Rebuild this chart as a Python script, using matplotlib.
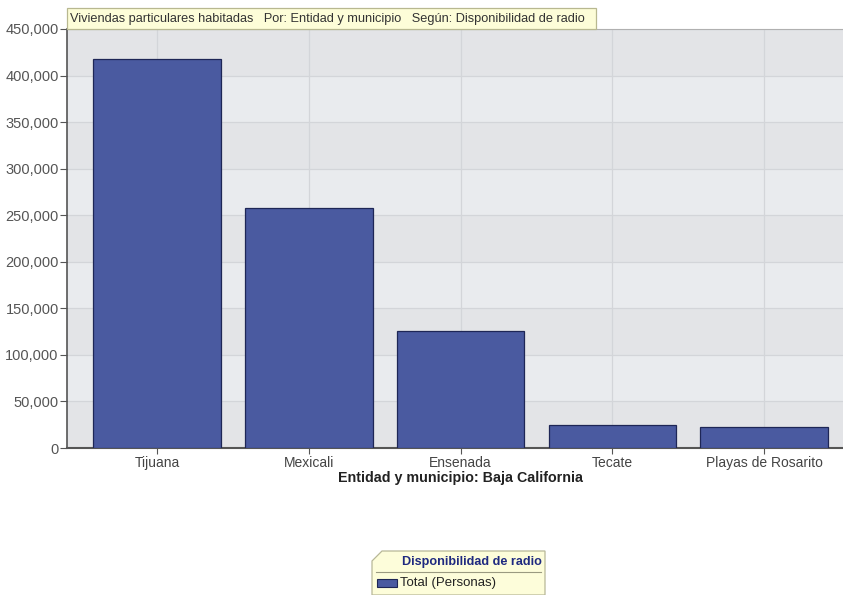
import numpy as np
import matplotlib.pyplot as plt
from matplotlib.patches import Polygon, Rectangle
from matplotlib.ticker import FuncFormatter

plt.rcParams['font.family'] = ['Liberation Sans', 'DejaVu Sans']

##DATOS
municipios = ["Tijuana", "Mexicali", "Ensenada", "Tecate", "Playas de Rosarito"]
viviendas = [418000, 258000, 126000, 24800, 22500]
yticks = list(range(0, 450001, 50000))
titulo = "Viviendas particulares habitadas   Por: Entidad y municipio   Según: Disponibilidad de radio"
xlabel = "Entidad y municipio: Baja California"
leyenda_titulo = "Disponibilidad de radio"
serie = "Total (Personas)"

color_barra = "#4a5aa0"
color_borde = "#1e2656"

fig = plt.figure(figsize=(8.43, 5.95), dpi=100)
ax = fig.add_axes([67/843, 1-448/595, 1-67/843, (448-29)/595])

x = np.arange(len(municipios))
ax.set_xlim(-0.593, 4.52)
ax.set_ylim(0, 450000)

# bandas alternas de fondo
ax.set_facecolor("#e9ebee")
for i in range(len(yticks)-1):
    c = "#e3e4e7" if i % 2 == 0 else "#e9ebee"
    ax.axhspan(yticks[i], yticks[i+1], color=c, zorder=0, lw=0)

for yv in yticks[1:]:
    ax.axhline(yv, color="#d3d5d9", lw=0.9, zorder=1)
for xv in x:
    ax.axvline(xv, color="#d3d5d9", lw=0.9, zorder=1)

ax.bar(x, viviendas, width=0.84, color=color_barra, edgecolor=color_borde, lw=0.9, zorder=3)

ax.set_xticks(x)
ax.set_xticklabels(municipios, fontsize=10, color="#444444")
ax.set_yticks(yticks)
ax.yaxis.set_major_formatter(FuncFormatter(lambda v, p: f"{int(v):,}"))
ax.tick_params(axis='y', labelsize=10.5, labelcolor="#555555", length=5, color="#555555", pad=1)
ax.tick_params(axis='x', length=4, color="#555555", pad=1.5)
ax.set_xlabel(xlabel, fontsize=10.3, fontweight="bold", color="#222222")
ax.xaxis.set_label_coords((460-67)/(843-67), -(478-448)/(448-29))
ax.xaxis.label.set_va("center")

ax.spines["right"].set_visible(False)
ax.spines["top"].set_color("#b0b0b0")
ax.spines["left"].set_color("#555555")
ax.spines["left"].set_linewidth(1.2)
ax.spines["bottom"].set_color("#555555")
ax.spines["bottom"].set_linewidth(1.5)

# caja del título
fig.patches.append(Rectangle((67/843, 1-29/595), (596-67)/843, 21/595,
                             transform=fig.transFigure, facecolor="#fdfdd8",
                             edgecolor="#b8b890", lw=0.9, zorder=5))
fig.text(70/843, 1-19/595, titulo, fontsize=9.2, color="#333333", va="center", ha="left", zorder=6)

# leyenda
x0, x1 = 372/843, 545/843
y0, y1 = 0.0, 1-551/595
corte = 10
leg = Polygon([(x0, y0), (x0, y1 - corte/595), (x0 + corte/843, y1), (x1, y1), (x1, y0)],
              closed=True, transform=fig.transFigure, facecolor="#fdfdda",
              edgecolor="#b8b898", lw=0.9)
fig.patches.append(leg)
fig.text(542/843, 1-562/595, leyenda_titulo, fontsize=9.1, fontweight="bold",
         color="#1f2a80", ha="right", va="center")
fig.lines.append(plt.Line2D([376/843, 541/843], [1-572/595, 1-572/595],
                            transform=fig.transFigure, color="#9a9a80", lw=0.8))
fig.patches.append(Rectangle((377/843, 1-587/595), 20/843, 8/595, transform=fig.transFigure,
                             facecolor=color_barra, edgecolor=color_borde, lw=0.8))
fig.text(400/843, 1-583/595, serie, fontsize=9.5, color="#222222", ha="left", va="center")

fig.savefig("out.png", dpi=100)
